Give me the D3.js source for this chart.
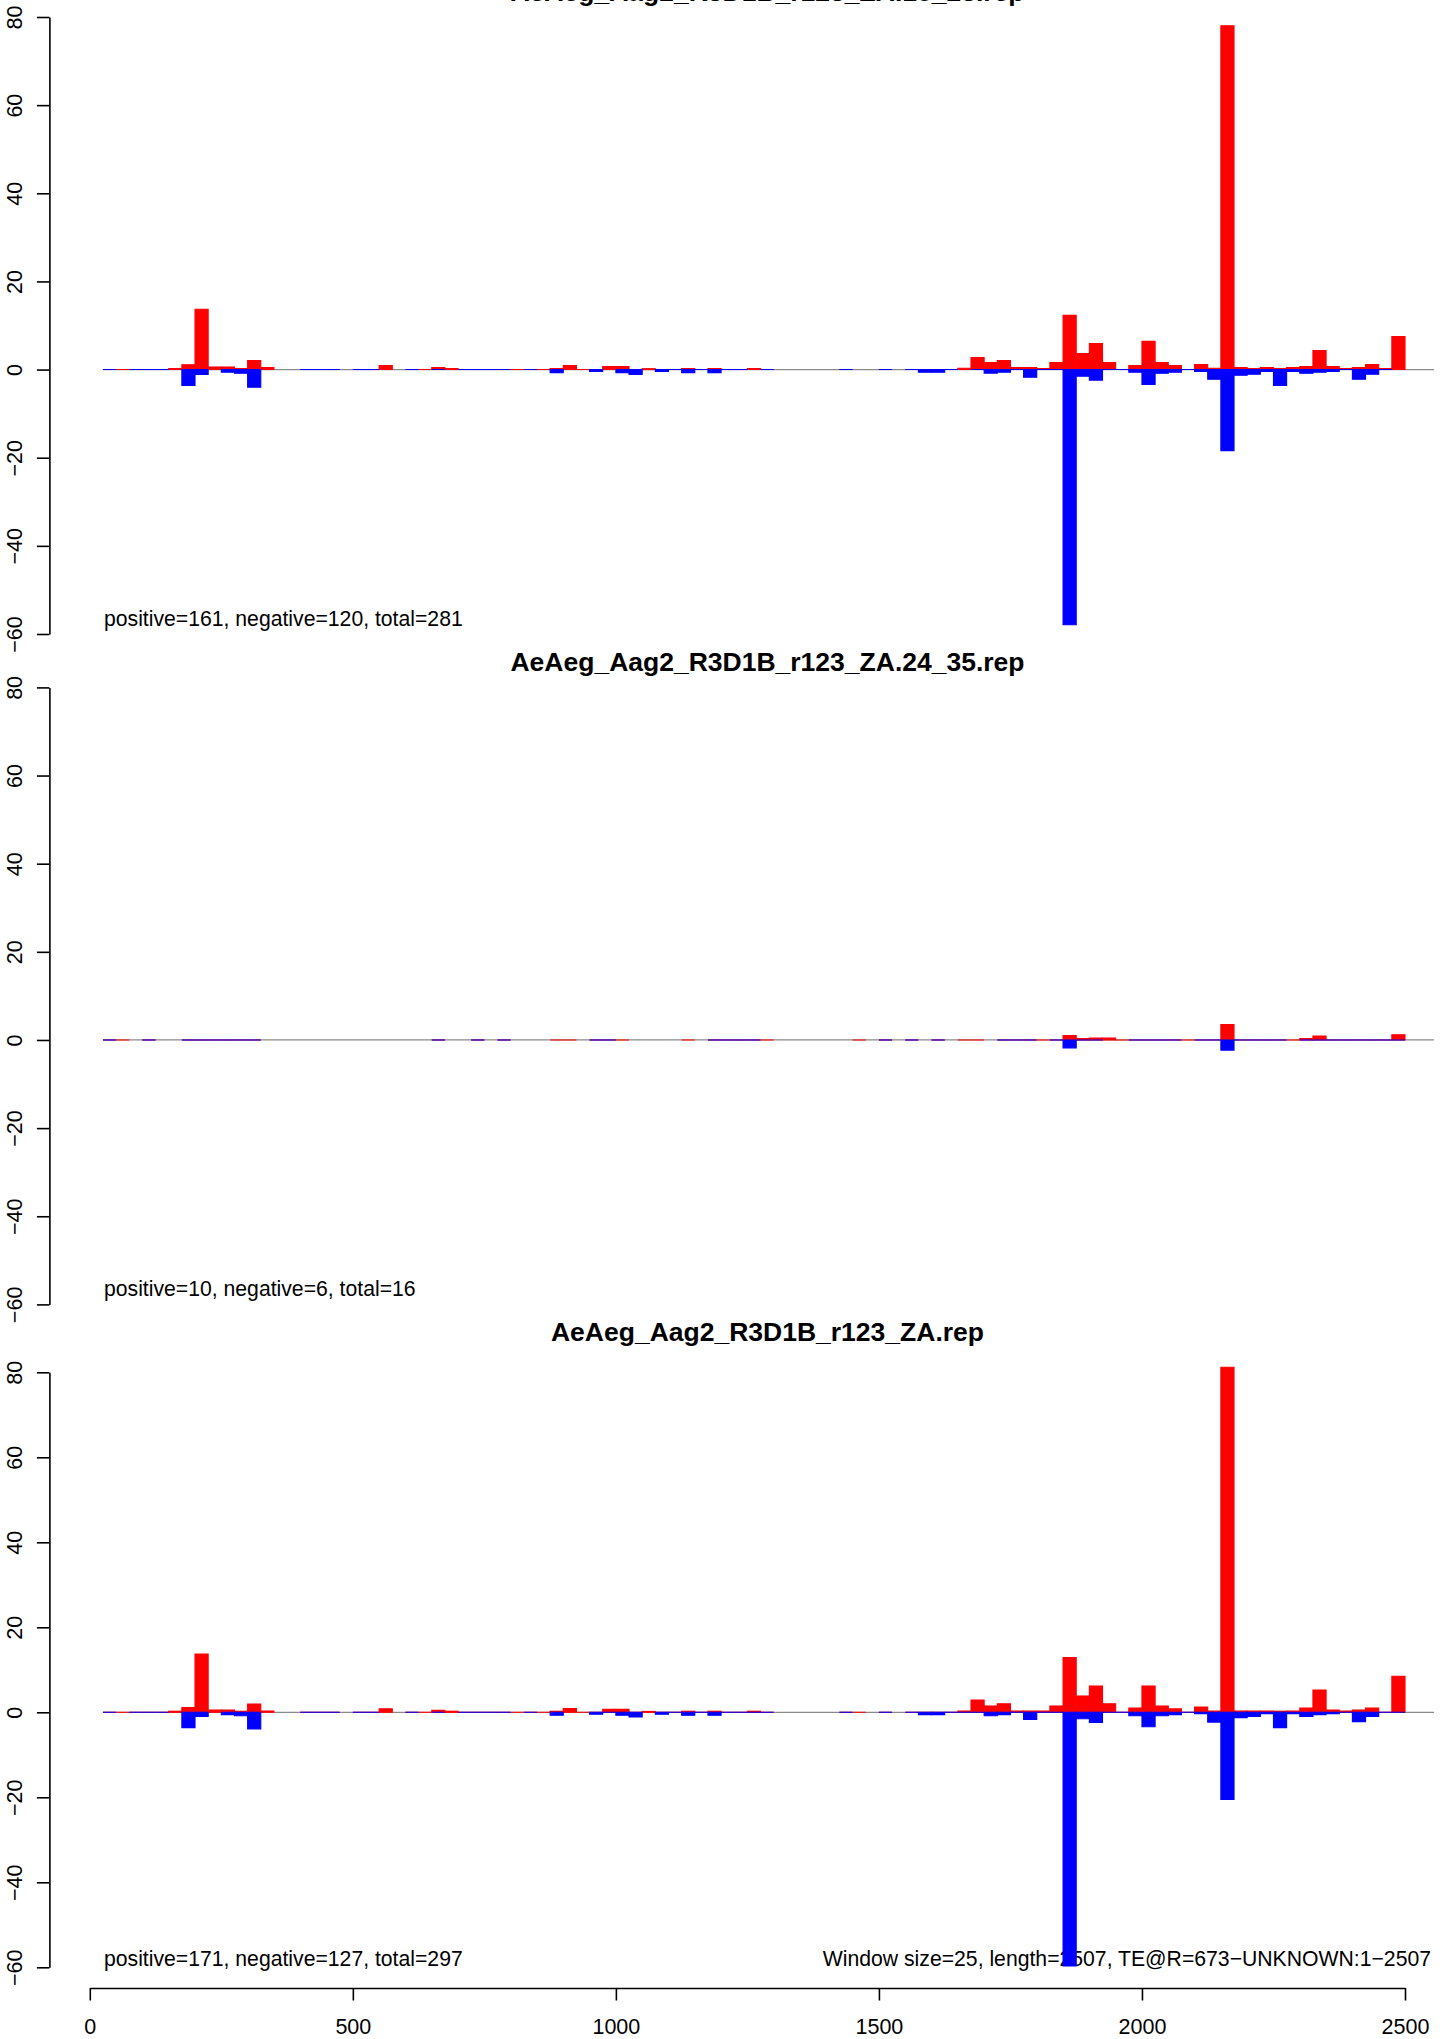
<!DOCTYPE html>
<html>
<head>
<meta charset="utf-8">
<script src="https://cdn.jsdelivr.net/npm/d3@7"></script>
<style>
  html, body { margin: 0; padding: 0; background: #fff; }
  svg { display: block; }
  text { font-family: "Liberation Sans", Arial, Helvetica, sans-serif; fill: #000; }
</style>
</head>
<body>
<script>
// ---------------- DATA ----------------
const windowSize = 25;
const windowStart = [25,50,75,100,125,150,175,200,225,250,275,300,325,350,375,400,425,450,475,500,
  525,550,575,600,625,650,675,700,725,750,775,800,825,850,875,900,925,950,975,1000,
  1025,1050,1075,1100,1125,1150,1175,1200,1225,1250,1275,1300,1325,1350,1375,1400,1425,1450,1475,1500,
  1525,1550,1575,1600,1625,1650,1675,1700,1725,1750,1775,1800,1825,1850,1875,1900,1925,1950,1975,2000,
  2025,2050,2075,2100,2125,2150,2175,2200,2225,2250,2275,2300,2325,2350,2375,2400,2425,2450,2475];

const titles = [
  "AeAeg_Aag2_R3D1B_r123_ZA.18_23.rep",
  "AeAeg_Aag2_R3D1B_r123_ZA.24_35.rep",
  "AeAeg_Aag2_R3D1B_r123_ZA.rep"
];
const notes = [
  "positive=161, negative=120, total=281",
  "positive=10, negative=6, total=16",
  "positive=171, negative=127, total=297"
];
const footnote = "Window size=25, length=2507, TE@R=673\u2212UNKNOWN:1\u22122507";

const yTicks = [-60, -40, -20, 0, 20, 40, 60, 80];
const xTicks = [0, 500, 1000, 1500, 2000, 2500];

// panel 1 (18_23)
const p1Pos = [0,0,0,0,0,0.25,1.1,13.7,0.6,0.6,
  0.25,2.05,0.45,null,null,0,0,0,null,0,
  0,0.9,null,0,0,0.45,0.25,0,0,0,
  0,0,0,0,0.25,0.9,0,0,0.7,0.7,
  0,0.2,0,0,0.25,0,0.25,0,0,0.25,
  0,null,null,null,null,null,0,null,null,0,
  null,0,0,0,0,0.3,2.7,1.6,2.05,0.45,
  0.45,0.25,1.6,12.3,3.65,5.9,1.6,0,0.9,6.4,
  1.6,0.9,0,1.15,0.3,78,0.45,0.25,0.45,0.25,
  0.45,0.7,4.3,0.7,0.25,0.45,1.15,0.25,7.5];
const p1Neg = [0,null,0,0,0,null,3.6,1.1,null,0.6,
  0.85,4.0,null,null,null,0,0,0,null,0,
  0,null,null,0,null,0,null,0,0,0,
  0,null,0,null,0.7,null,null,0.45,null,0.7,
  1.1,null,0.45,0,0.7,0,0.7,0,0,null,
  0,null,null,null,null,null,0,null,null,0,
  null,0,0.6,0.6,0,null,0,0.8,0.6,0,
  1.75,0,0,57.9,1.5,2.4,0,0,0.6,3.35,
  0.85,0.6,0,0.4,2.2,18.4,1.3,1.05,0.4,3.6,
  0.4,0.85,0.6,0.4,0,2.2,1.05,0,null];

// panel 2 (24_35)
const p2Pos = [0,0,null,0,null,null,0,0,0,0,
  0,0,null,null,null,null,null,null,null,null,
  null,null,null,null,null,0,null,null,0,null,
  0,null,null,null,0,0,null,0,0,0,
  null,null,null,null,0,null,0,0,0,0,
  0,null,null,null,null,null,null,0,null,0,
  null,0,null,0,null,0,0,null,0,0,
  0,0,0,1.0,0.3,0.45,0.45,0,0,0,
  0,0,0,0,0,3.5,0,0,0,0,
  0,0.3,0.9,0,0,0,0,0,1.2];
const p2Neg = [0,null,null,0,null,null,0,0,0,0,
  0,0,null,null,null,null,null,null,null,null,
  null,null,null,null,null,0,null,null,0,null,
  0,null,null,null,null,null,null,0,0,null,
  null,null,null,null,null,null,0,0,0,0,
  null,null,null,null,null,null,null,null,null,0,
  null,0,null,0,null,null,null,null,0,0,
  0,null,0,1.8,0,0,null,null,0,0,
  0,0,null,0,0,2.3,0,0,0,0,
  null,0,0,0,0,0,0,0,0];

// panel 3 (all)
const p3Pos = [0,0,0,0,0,0.25,1.1,13.7,0.55,0.55,
  0.25,1.96,0.3,null,null,0,0,0,null,0,
  0,0.8,null,0,0,0.45,0.25,0,0,0,
  0,0,0,0,0.25,0.9,0,0,0.7,0.7,
  0,0.2,0,0,0.25,0,0.25,0,0,0.25,
  0,null,null,null,null,null,0,0,null,0,
  null,0,0,0,0,0.3,2.9,1.5,2.0,0.3,
  0.3,0.3,1.5,12.9,3.85,6.2,2.0,0,1.0,6.2,
  1.5,0.8,0,1.25,0.3,81.2,0.3,0.3,0.3,0.25,
  0.3,1.0,5.25,0.55,0.3,0.55,1.0,0,8.5];
const p3Neg = [0,null,0,0,0,null,3.6,1.0,null,0.55,
  0.8,3.9,null,null,null,0,0,0,null,0,
  0,null,null,0,null,0,null,0,0,0,
  0,null,0,null,0.7,null,null,0.45,0,0.7,
  1.1,null,0.45,0,0.7,0,0.7,0,0,0,
  0,null,null,null,null,null,0,null,null,0,
  null,0,0.55,0.55,0,0,0,0.8,0.55,0,
  1.7,0,0,59.7,1.5,2.4,0,0,0.8,3.4,
  0.8,0.55,0,0.3,2.3,20.5,1.25,1.0,0.3,3.6,
  0.3,1.0,0.55,0.3,0,2.2,1.0,0,0];

// ---------------- LAYOUT ----------------
const W = 1444, H = 2039;
const xLeftPx = 89.8, xRightPx = 1405;
const yAxisX = 49.4;
const baseLineEnd = 2555;   // domain value where the grey reference line ends
const panelLayout = [
  { top: 17.0,   bottom: 634.0,  titleY: 0.5,    noteY: 625.5 },
  { top: 687.4,  bottom: 1304.4, titleY: 670.8,  noteY: 1295.9 },
  { top: 1372.3, bottom: 1967.3, titleY: 1340.5, noteY: 1965.5 }
];
const noteX = 104;
const titleX = 767.5;
const xAxisY = 1988;

const series = [[p1Pos, p1Neg], [p2Pos, p2Neg], [p3Pos, p3Neg]];

const svg = d3.select("body").append("svg")
  .attr("width", W).attr("height", H)
  .attr("viewBox", `0 0 ${W} ${H}`);

const x = d3.scaleLinear().domain([0, 2500]).range([xLeftPx, xRightPx]);
const fmt = d => (d < 0 ? "\u2212" + Math.abs(d) : String(d));

panelLayout.forEach((pl, i) => {
  const y = d3.scaleLinear().domain([-60, 80]).range([pl.bottom, pl.top]);
  const g = svg.append("g");

  // title
  g.append("text")
    .attr("x", titleX).attr("y", pl.titleY)
    .attr("text-anchor", "middle")
    .style("font-weight", "bold").style("font-size", "26.5px")
    .text(titles[i]);

  // y axis
  const ax = g.append("g")
    .attr("transform", `translate(${yAxisX},0)`)
    .call(d3.axisLeft(y).tickValues(yTicks).tickSize(12.5).tickSizeOuter(0).tickFormat(fmt));
  ax.select(".domain").attr("stroke", "#000").attr("stroke-width", 1.6);
  ax.selectAll(".tick line").attr("stroke", "#000").attr("stroke-width", 1.6);
  ax.selectAll(".tick text")
    .attr("x", null).attr("dy", null)
    .attr("transform", "translate(-27.7,0) rotate(-90)")
    .attr("text-anchor", "middle")
    .attr("fill", "#000")
    .style("font-size", "21.5px")
    .style("font-family", "'Liberation Sans', Arial, Helvetica, sans-serif");

  // note text
  g.append("text")
    .attr("x", noteX).attr("y", pl.noteY)
    .style("font-size", "21.2px")
    .text(notes[i]);
  if (i === 2) {
    g.append("text")
      .attr("x", 1431).attr("y", pl.noteY)
      .attr("text-anchor", "end")
      .style("font-size", "21.2px")
      .text(footnote);
  }

  // grey zero reference line
  g.append("line")
    .attr("x1", x(windowStart[0])).attr("x2", x(baseLineEnd))
    .attr("y1", y(0)).attr("y2", y(0))
    .attr("stroke", "#8a8a8a").attr("stroke-width", 1.3);

  const [pos, neg] = series[i];
  const barPath = (s, v) => {
    const x0 = x(s), x1 = x(s + windowSize), y0 = y(0), y1 = y(v);
    return `M${x0},${y0}H${x1}V${y1}H${x0}Z`;
  };
  const redData = windowStart.map((s, k) => ({ s, v: pos[k] })).filter(d => d.v !== null);
  const blueData = windowStart.map((s, k) => ({ s, v: neg[k] })).filter(d => d.v !== null);

  g.append("g").selectAll("path").data(redData).join("path")
    .attr("d", d => barPath(d.s, d.v))
    .attr("fill", "#ff0000").attr("stroke", "#ff0000").attr("stroke-width", 1.1);
  g.append("g").selectAll("path").data(blueData).join("path")
    .attr("d", d => barPath(d.s, -d.v))
    .attr("fill", "#0000ff").attr("stroke", "#0000ff").attr("stroke-width", 1.1);
});

// bottom x axis
const xa = svg.append("g")
  .attr("transform", `translate(0,${xAxisY})`)
  .call(d3.axisBottom(x).tickValues(xTicks).tickSize(12.5).tickSizeOuter(0).tickFormat(d => String(d)));
xa.select(".domain").attr("stroke", "#000").attr("stroke-width", 1.6);
xa.selectAll(".tick line").attr("stroke", "#000").attr("stroke-width", 1.6);
xa.selectAll(".tick text")
  .attr("y", 45.5).attr("dy", null)
  .attr("fill", "#000")
  .style("font-size", "21.5px")
  .style("font-family", "'Liberation Sans', Arial, Helvetica, sans-serif");
</script>
</body>
</html>
